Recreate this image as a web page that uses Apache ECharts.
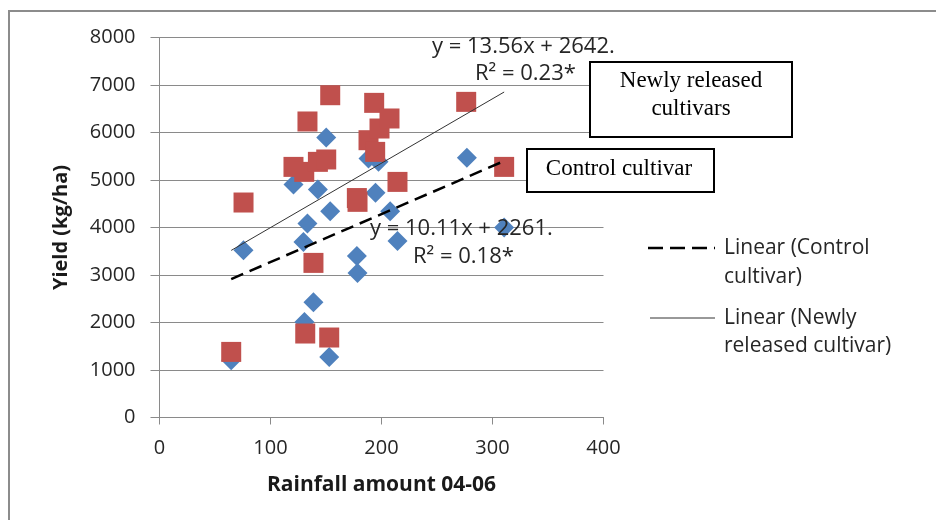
<!DOCTYPE html>
<html>
<head>
<meta charset="utf-8">
<script src="https://cdn.jsdelivr.net/npm/echarts@6/dist/echarts.min.js"></script>
<style>
html,body{margin:0;padding:0;background:#fff;}
#chart{width:936px;height:520px;}
</style>
</head>
<body>
<div id="chart"></div>
<script>
// Control cultivar (blue diamonds)
var controlX = [64.6, 75.7, 120.7, 129.7, 130.6, 133.3, 138.7, 142.7, 150.2, 152.9, 153.8, 177.8, 178.4, 188.3, 194.6, 197.3, 207.8, 214.4, 276.9, 310.5];
var controlY = [1206, 3522, 4905, 3697, 2013, 4084, 2427, 4800, 5895, 1276, 4343, 3402, 3044, 5452, 4729, 5382, 4343, 3718, 5466, 4000];
// Newly released cultivars (red squares)
var newX = [64.6, 75.7, 120.7, 130.4, 131.3, 133.3, 138.7, 142.7, 150.2, 152.9, 153.8, 177.8, 178.4, 188.3, 193.4, 194.3, 198.2, 207.2, 214.4, 276.3, 310.5];
var newY = [1381, 4526, 5276, 5171, 1768, 6232, 3255, 5382, 5432, 1684, 6785, 4620, 4540, 5838, 6624, 5592, 6084, 6295, 4960, 6645, 5276];
// Trend line end points
var controlTrendX = [64.6, 310.5];
var controlTrendY = [2914, 5400];
var newTrendX = [64.6, 310.5];
var newTrendY = [3518, 6852];
// Axis ticks
var xTicks = [0, 100, 200, 300, 400];
var yTicks = [0, 1000, 2000, 3000, 4000, 5000, 6000, 7000, 8000];

function zip(a, b) { return a.map(function (v, i) { return [v, b[i]]; }); }

var sansFont = '"Open Sans", "Noto Sans", sans-serif';
var serifFont = '"Liberation Serif", "DejaVu Serif", serif';

var chart = echarts.init(document.getElementById('chart'), null, {renderer: 'canvas'});
var option = {
  backgroundColor: '#ffffff',
  animation: false,
  grid: {left: 159.5, right: 332.5, top: 37.5, bottom: 102.5, containLabel: false},
  xAxis: {
    type: 'value', min: xTicks[0], max: xTicks[xTicks.length - 1], interval: 100,
    name: 'Rainfall amount 04-06', nameLocation: 'middle', nameGap: 57,
    nameTextStyle: {fontFamily: sansFont, fontWeight: 'bold', fontSize: 21, color: '#1a1a1a'},
    axisLine: {show: true, lineStyle: {color: '#8a8a8a', width: 1}},
    axisTick: {show: true, inside: false, length: 7, lineStyle: {color: '#8a8a8a'}},
    axisLabel: {fontFamily: sansFont, fontSize: 20, color: '#262626', margin: 21,
      formatter: function (v) { return String(v); }},
    splitLine: {show: false}
  },
  yAxis: {
    type: 'value', min: yTicks[0], max: yTicks[yTicks.length - 1], interval: 1000,
    name: 'Yield (kg/ha)', nameLocation: 'middle', nameGap: 88, nameRotate: 90,
    nameTextStyle: {fontFamily: sansFont, fontWeight: 'bold', fontSize: 20, color: '#1a1a1a'},
    axisLine: {show: true, lineStyle: {color: '#8a8a8a', width: 1}},
    axisTick: {show: true, inside: false, length: 9, lineStyle: {color: '#8a8a8a'}},
    axisLabel: {fontFamily: sansFont, fontSize: 20, color: '#262626', margin: 24,
      formatter: function (v) { return String(v); }},
    splitLine: {show: true, lineStyle: {color: '#8a8a8a', width: 1}}
  },
  series: [
    {
      name: 'Control cultivar', type: 'scatter', symbol: 'diamond', symbolSize: 20,
      itemStyle: {color: '#4f81bd', opacity: 1}, z: 2,
      data: zip(controlX, controlY)
    },
    {
      name: 'Newly released cultivars', type: 'scatter', symbol: 'rect', symbolSize: 20,
      itemStyle: {color: '#c0504d', opacity: 1}, z: 3,
      data: zip(newX, newY)
    },
    {
      name: 'Linear (Control cultivar)', type: 'line', symbol: 'none', z: 4,
      lineStyle: {color: '#000000', width: 2.5, type: [13, 7]},
      data: zip(controlTrendX, controlTrendY)
    },
    {
      name: 'Linear (Newly released cultivar)', type: 'line', symbol: 'none', z: 4,
      lineStyle: {color: '#333333', width: 1},
      data: zip(newTrendX, newTrendY)
    }
  ],
  graphic: [
    // outer frame (left and top edges)
    {type: 'polyline', shape: {points: [[9, 520], [9, 11], [936, 11]]}, style: {stroke: '#8c8c8c', lineWidth: 2, fill: null}, z: 10},
    // equations
    {type: 'text', x: 432, y: 47, style: {text: 'y = 13.56x + 2642.', font: '22px ' + sansFont, fill: '#262626', textVerticalAlign: 'middle'}, z: 20},
    {type: 'text', x: 475, y: 74, style: {text: 'R² = 0.23*', font: '22px ' + sansFont, fill: '#262626', textVerticalAlign: 'middle'}, z: 20},
    {type: 'text', x: 370, y: 229, style: {text: 'y = 10.11x + 2261.', font: '22px ' + sansFont, fill: '#262626', textVerticalAlign: 'middle'}, z: 20},
    {type: 'text', x: 413, y: 257, style: {text: 'R² = 0.18*', font: '22px ' + sansFont, fill: '#262626', textVerticalAlign: 'middle'}, z: 20},
    // annotation boxes
    {type: 'rect', shape: {x: 590, y: 62, width: 202, height: 75}, style: {fill: '#ffffff', stroke: '#000000', lineWidth: 2}, z: 20},
    {type: 'text', x: 691, y: 81, style: {text: 'Newly released', font: '23px ' + serifFont, fill: '#000000', textAlign: 'center', textVerticalAlign: 'middle'}, z: 21},
    {type: 'text', x: 691, y: 109, style: {text: 'cultivars', font: '23px ' + serifFont, fill: '#000000', textAlign: 'center', textVerticalAlign: 'middle'}, z: 21},
    {type: 'rect', shape: {x: 527, y: 149, width: 187, height: 43}, style: {fill: '#ffffff', stroke: '#000000', lineWidth: 2}, z: 20},
    {type: 'text', x: 619, y: 169, style: {text: 'Control cultivar', font: '23px ' + serifFont, fill: '#000000', textAlign: 'center', textVerticalAlign: 'middle'}, z: 21},
    // legend
    {type: 'line', shape: {x1: 648, y1: 248, x2: 715, y2: 248}, style: {stroke: '#000000', lineWidth: 2.5, lineDash: [15, 7]}, z: 20},
    {type: 'text', x: 724, y: 248, style: {text: 'Linear (Control', font: '21px ' + sansFont, fill: '#262626', textVerticalAlign: 'middle'}, z: 20},
    {type: 'text', x: 724, y: 277, style: {text: 'cultivar)', font: '21px ' + sansFont, fill: '#262626', textVerticalAlign: 'middle'}, z: 20},
    {type: 'line', shape: {x1: 650, y1: 318, x2: 715, y2: 318}, style: {stroke: '#333333', lineWidth: 1}, z: 20},
    {type: 'text', x: 724, y: 318, style: {text: 'Linear (Newly', font: '21px ' + sansFont, fill: '#262626', textVerticalAlign: 'middle'}, z: 20},
    {type: 'text', x: 724, y: 346, style: {text: 'released cultivar)', font: '21px ' + sansFont, fill: '#262626', textVerticalAlign: 'middle'}, z: 20}
  ]
};
chart.setOption(option);
</script>
</body>
</html>
